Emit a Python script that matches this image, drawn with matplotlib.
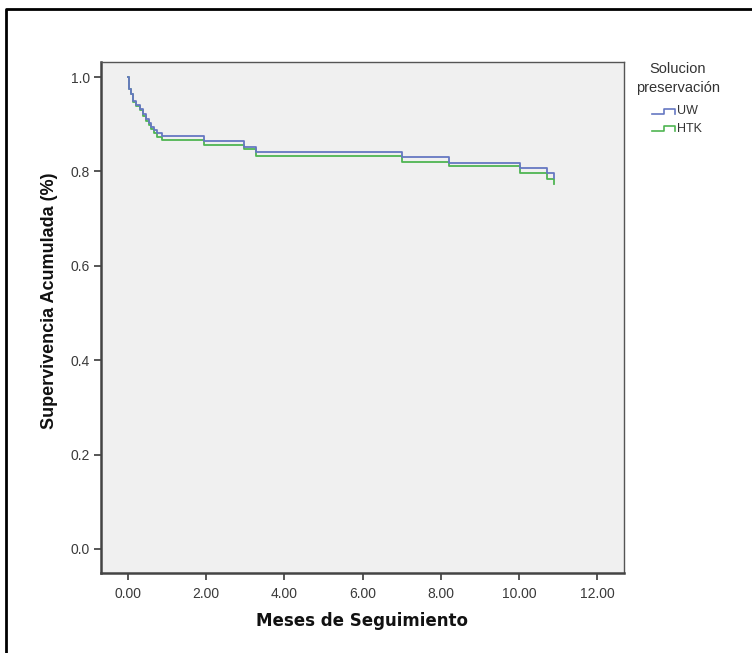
import matplotlib
matplotlib.use("Agg")
import matplotlib.pyplot as plt
from matplotlib.lines import Line2D

plt.rcParams['font.family'] = ['Liberation Sans', 'DejaVu Sans']

# Data (months, cumulative survival)
uw_time = [0, 0.03, 0.08, 0.14, 0.20, 0.31, 0.39, 0.46, 0.54, 0.60, 0.67, 0.75, 0.86,
           1.95, 2.97, 3.27, 7.02, 8.22, 10.03, 10.72, 10.90]
uw_surv = [1.000, 0.975, 0.965, 0.950, 0.940, 0.932, 0.922, 0.912, 0.903, 0.894, 0.887,
           0.882, 0.875, 0.864, 0.851, 0.842, 0.831, 0.819, 0.808, 0.796, 0.786]
htk_time = [0, 0.03, 0.08, 0.14, 0.20, 0.31, 0.39, 0.46, 0.54, 0.60, 0.67, 0.75, 0.86,
            1.95, 2.97, 3.27, 7.02, 8.22, 10.03, 10.72, 10.90]
htk_surv = [1.000, 0.975, 0.965, 0.948, 0.938, 0.930, 0.918, 0.908, 0.898, 0.889, 0.881,
            0.874, 0.867, 0.856, 0.847, 0.833, 0.821, 0.811, 0.797, 0.785, 0.774]
series_names = ["UW", "HTK"]
x_ticks = [0, 2, 4, 6, 8, 10, 12]
y_ticks = [0.0, 0.2, 0.4, 0.6, 0.8, 1.0]

blue = '#6678c2'
green = '#4fb552'

W, H = 752, 653
fig = plt.figure(figsize=(W / 100, H / 100), dpi=100)
fig.patch.set_facecolor('white')

ax = fig.add_axes([101 / W, 1 - 573 / H, (624 - 101) / W, (573 - 62) / H])
ax.set_facecolor('#f0f0f0')

ax.step(htk_time, htk_surv, where='post', color=green, lw=1.3)
ax.step(uw_time, uw_surv, where='post', color=blue, lw=1.3)

ax.set_xlim(-0.69, 12.69)
ax.set_ylim(-0.051, 1.032)
ax.set_xticks(x_ticks)
ax.set_xticklabels([f"{v:.2f}" for v in x_ticks])
ax.set_yticks(y_ticks)
ax.set_yticklabels([f"{v:.1f}" for v in y_ticks])
ax.tick_params(axis='both', labelsize=10, colors='#3a3a3a', length=5, width=1.2, pad=3)
ax.tick_params(axis='x', pad=5)
for side in ['left', 'bottom']:
    ax.spines[side].set_color('#444444')
    ax.spines[side].set_linewidth(1.8)
for side in ['top', 'right']:
    ax.spines[side].set_color('#555555')
    ax.spines[side].set_linewidth(1.0)

fig.text(362 / W, 1 - 621 / H, "Meses de Seguimiento", ha='center', va='center',
         fontsize=12, fontweight='bold', color='#111111', family='DejaVu Sans')
fig.text(50 / W, 1 - 301 / H, "Supervivencia Acumulada (%)", ha='center', va='center',
         rotation=90, fontsize=13, fontweight='bold', color='#111111')

# Legend (manual)
fig.text(678 / W, 1 - 69 / H, "Solucion", ha='center', va='center', fontsize=10.5, color='#333333')
fig.text(678 / W, 1 - 88 / H, "preservación", ha='center', va='center', fontsize=10.5, color='#333333')
for name, col, yc in [(series_names[0], blue, 111.5), (series_names[1], green, 128.5)]:
    xs = [652, 664, 664, 675, 675]
    ys = [yc + 2, yc + 2, yc - 3, yc - 3, yc + 2]
    fig.add_artist(Line2D([x / W for x in xs], [1 - y / H for y in ys],
                          color=col, lw=1.2, transform=fig.transFigure))
    fig.text(677 / W, 1 - yc / H, name, ha='left', va='center', fontsize=9, color='#333333')

# Outer frame (top and left visible)
fig.add_artist(Line2D([6 / W, 6 / W, 1.0], [0.0, 1 - 8.5 / H, 1 - 8.5 / H],
                      color='black', lw=2.0, transform=fig.transFigure))

fig.savefig("out.png", dpi=100)
